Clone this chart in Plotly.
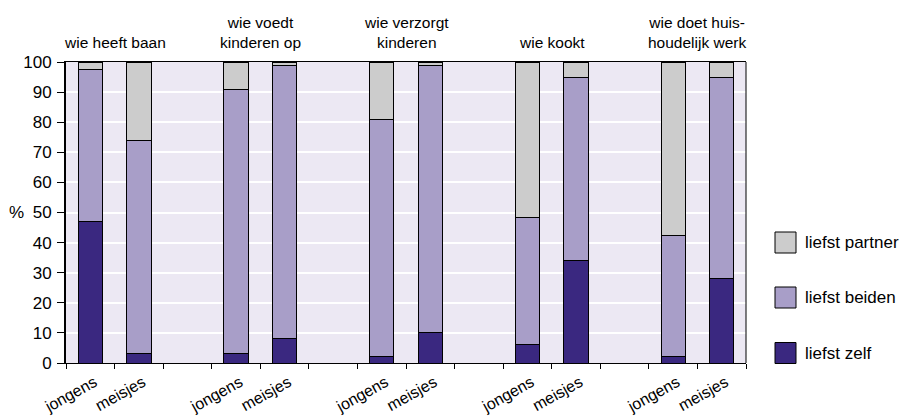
import plotly.graph_objects as go

# ---- data ----
slots = ["jongens", "meisjes", "\u200b",
         "jongens\u200b", "meisjes\u200b", "\u200b\u200b",
         "jongens\u200b\u200b", "meisjes\u200b\u200b", "\u200b\u200b\u200b",
         "jongens\u200b\u200b\u200b", "meisjes\u200b\u200b\u200b", "\u200b\u200b\u200b\u200b",
         "jongens\u200b\u200b\u200b\u200b", "meisjes\u200b\u200b\u200b\u200b"]
bar_slots = [s for s in slots if s.strip("\u200b")]
group_titles = ["wie heeft baan", "wie voedt<br>kinderen op", "wie verzorgt<br>kinderen",
                "wie kookt", "wie doet huis-<br>houdelijk werk"]
zelf    = [47, 3, 3, 8, 2, 10, 6, 34, 2, 28]
beiden  = [50.5, 71, 88, 91, 79, 89, 42.5, 61, 40.5, 67]
partner = [2.5, 26, 9, 1, 19, 1, 51.5, 5, 57.5, 5]
series_names = ["liefst zelf", "liefst beiden", "liefst partner"]
series_colors = ["#3A2880", "#A89EC8", "#CCCCCC"]
y_ticks = list(range(0, 101, 10))

fig = go.Figure()
for name, vals, col in zip(series_names, [zelf, beiden, partner], series_colors):
    fig.add_trace(go.Bar(x=bar_slots, y=vals, name=name, width=0.5,
                         marker=dict(color=col, line=dict(color="#000000", width=1)),
                         showlegend=False, hoverinfo="skip"))

L, R, T, B = 66, 157, 62, 54
W, H = 903, 417
pw, ph = W - L - R, H - T - B
font = "Liberation Sans, Arial, sans-serif"

fig.update_layout(
    width=W, height=H, barmode="stack",
    margin=dict(l=L, r=R, t=T, b=B, pad=0, autoexpand=False),
    paper_bgcolor="white", plot_bgcolor="#ECE8F3",
    font=dict(family=font, size=15, color="#000000"),
    xaxis=dict(type="category", categoryorder="array", categoryarray=slots,
               range=[-0.5, len(slots) - 0.5], tickson="boundaries",
               ticks="outside", ticklen=5, tickcolor="#000", tickwidth=1,
               tickangle=-29, showgrid=False, showline=True, linecolor="#000",
               linewidth=1, mirror=True, tickfont=dict(size=16), automargin=False,
               ticklabelstandoff=3, ticklabelshift=4),
    yaxis=dict(range=[0, 100], tickvals=y_ticks, ticks="outside", ticklen=7,
               tickcolor="#000", showgrid=True, gridcolor="white", gridwidth=2,
               showline=True, linecolor="#000", linewidth=2, zeroline=False,
               tickfont=dict(size=17), automargin=False, ticklabelstandoff=2),
)

# right border
fig.add_shape(type="line", xref="x domain", yref="y domain", x0=1, x1=1, y0=0, y1=1,
              line=dict(color="#000", width=1))

# group titles
for i, t in enumerate(group_titles):
    fig.add_annotation(x=3 * i + 0.5, y=1, xref="x", yref="paper", text=t,
                       showarrow=False, yanchor="bottom", yshift=9,
                       font=dict(size=15.5))

# % label
fig.add_annotation(x=0, y=50, xref="paper", yref="y", text="%", showarrow=False,
                   xanchor="right", xshift=-40, font=dict(size=17))

# manual legend
def px2paper(px, py):
    return (px - L) / pw, (H - B - py) / ph

legend_centers = [353, 297.5, 242.5]
for name, col, cy in zip(series_names, series_colors, legend_centers):
    x0, y0 = px2paper(775, cy + 10.5)
    x1, y1 = px2paper(796, cy - 10.5)
    fig.add_shape(type="rect", xref="paper", yref="paper", x0=x0, x1=x1, y0=y0, y1=y1,
                  fillcolor=col, line=dict(color="#000", width=1))
    tx, ty = px2paper(803, cy)
    fig.add_annotation(x=tx, y=ty, xref="paper", yref="paper", text=name,
                       showarrow=False, xanchor="left", yanchor="middle",
                       font=dict(size=17))

fig.write_html("out.html", config={"displayModeBar": False},
               post_script="document.body.style.margin='0';")
